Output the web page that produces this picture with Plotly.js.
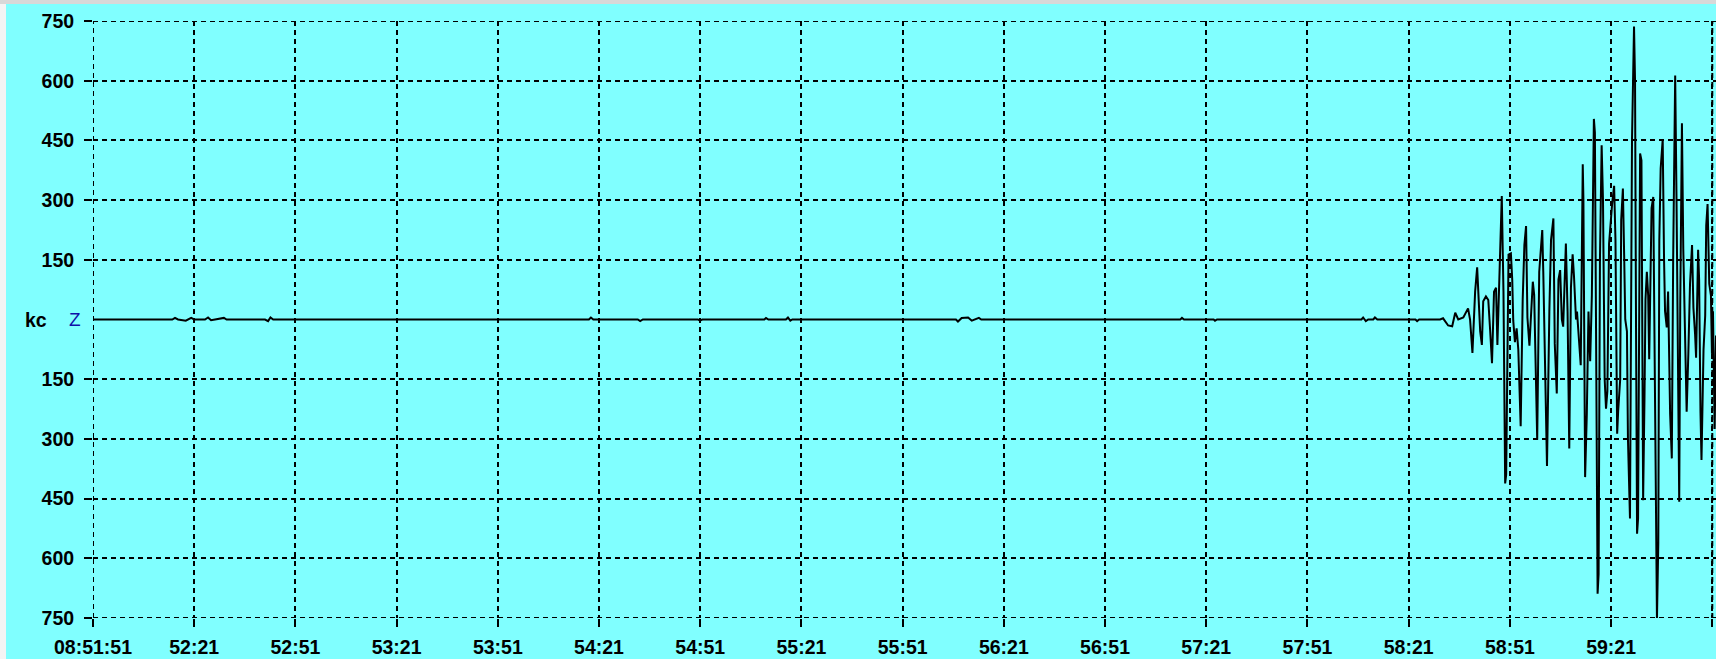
<!DOCTYPE html>
<html>
<head>
<meta charset="utf-8">
<script src="https://cdn.plot.ly/plotly-3.0.1.min.js"></script>
<style>html,body{margin:0;padding:0;background:#80FFFF;}#chart{width:1716px;height:659px;}</style>
</head>
<body>
<div id="chart"></div>
<script>
// Seconds after 08:51:51
const tickSeconds = [0,30,60,90,120,150,180,210,240,270,300,330,360,390,420,450,480];
const tickLabels = ["08:51:51","52:21","52:51","53:21","53:51","54:21","54:51","55:21","55:51","56:21","56:51","57:21","57:51","58:21","58:51","59:21",""];
const ampTicks = [-750,-600,-450,-300,-150,150,300,450,600,750];
const ampLabels = ["750","600","450","300","150","150","300","450","600","750"];

// quiet part (time s, counts)
const quietT = [0,23.5,24.3,25.2,27.5,29.1,30,33.2,34.1,35,38.8,39.6,51,51.9,52.6,53.4,147,147.6,148.3,161.5,162.2,163,179.3,179.9,180.6,199,199.5,200.2,205.4,206,206.7,207.3,255.8,256.4,257.5,259.4,260.5,262.6,263.3,322.3,322.8,323.4,332.2,332.6,333.2,376,376.5,377.3,378,379.5,380,380.7,392,392.5,393.1,398.5];
const quietV = [0,0,4,0,-3,4,0,0,5,-2,4,0,0,-4,5,0,0,5,0,0,-4,0,0,-3,0,0,4,0,0,5,-3,0,0,-5,4,5,-3,4,0,0,4,0,0,-3,0,0,5,-4,0,0,5,0,0,-4,0,0];

// event part (time s, counts)
const eventT = [399.3,400.2,401.7,402.9,403.8,404.7,406.2,407.6,408.2,408.9,409.7,410.3,411.2,411.7,412.1,412.9,413.6,414.1,414.7,415.3,415.9,416.3,416.9,417.6,418.1,418.6,418.9,419.3,419.6,420.3,420.7,421.0,421.5,422.0,422.5,423.2,423.8,424.3,424.8,425.2,425.8,426.2,426.8,427.2,427.7,428.1,428.7,429.1,429.6,429.9,430.4,431.0,431.7,432.2,432.9,433.3,433.9,434.4,434.9,435.4,435.8,436.3,436.6,437.1,437.6,438.1,438.6,439.0,439.6,439.9,440.6,441.0,441.6,441.8,442.3,442.8,443.3,443.8,444.3,444.9,445.2,446.0,446.3,446.7,447.2,447.6,448.1,448.5,448.9,449.4,450.3,450.9,451.3,451.6,451.8,452.1,452.7,453.0,453.5,453.9,454.2,454.7,455.0,455.6,455.9,456.2,456.8,457.1,457.4,457.7,458.0,458.3,458.6,459.0,459.2,459.5,459.9,460.2,460.6,461.0,461.3,461.6,462.0,462.5,462.8,463.1,463.6,464.0,464.3,464.7,465.3,465.7,466.0,466.5,466.9,467.5,468.0,468.4,469.0,469.4,469.7,470.2,470.5,471.0,471.4,471.9,472.4,472.9,473.4,474.0,474.4,474.9,475.2,475.8,476.1,476.5,476.8,477.4,477.9,478.2,478.6,479.1,479.6,479.9,480.2,480.7,481.1];
const eventV = [0,3,-15,-17,17,0,5,28,0,-84,70,131,-30,-64,46,58,49,-20,-110,70,80,-64,134,310,70,-412,-390,-80,163,166,100,-3,-57,-22,-76,-268,50,187,235,5,-66,0,95,62,-115,-302,120,178,225,120,-115,-368,20,200,254,-60,-186,100,124,0,-18,140,191,20,-324,80,164,110,0,20,-85,-115,390,300,-396,-240,20,-105,60,504,470,-689,-640,150,438,300,-150,-224,-180,190,290,336,200,-220,-287,-230,-150,250,329,150,0,-30,-300,-500,-100,450,736,600,-30,-538,-500,50,417,400,-100,-454,-200,50,120,60,-100,100,280,308,0,-300,-752,-560,200,380,452,150,20,-20,70,-237,-349,150,613,300,70,-458,36,493,178,-71,-232,-86,90,187,30,-37,-96,175,100,-232,-353,-76,10,236,290,90,60,-86,21,-275,-40];

const t = quietT.concat(eventT);
const v = quietV.concat(eventV);

const W = 1716, H = 659, L = 93, T = 21, B = 41;
const plotW = W - L, plotH = H - T - B;
const px2x = p => (p - L) / plotW;
const py2y = p => 1 + (T - p) / plotH;
const X_MAX = 481.1, Y_MAX = 750;

const trace = {
  x: t, y: v, type: 'scatter', mode: 'lines',
  line: {color: '#000000', width: 2},
  hoverinfo: 'skip'
};

const tickFont = {family: 'Liberation Sans, Arial, sans-serif', size: 19.5, color: '#000', weight: 'bold'};
const gridDash = '5px,4px';

// edge grid lines that Plotly suppresses at the range limits
const edgeLines = [
  {type: 'line', xref: 'x', yref: 'paper', x0: tickSeconds[0], x1: tickSeconds[0], y0: 0, y1: 1, line: {color: '#000', width: 2, dash: gridDash}, layer: 'below'},
  {type: 'line', xref: 'x', yref: 'paper', x0: tickSeconds[tickSeconds.length - 1], x1: tickSeconds[tickSeconds.length - 1], y0: 0, y1: 1, line: {color: '#000', width: 2, dash: gridDash}, layer: 'below'},
  {type: 'line', xref: 'paper', yref: 'y', x0: 0, x1: 1, y0: ampTicks[0], y1: ampTicks[0], line: {color: '#000', width: 2, dash: gridDash}, layer: 'below'},
  {type: 'line', xref: 'paper', yref: 'y', x0: 0, x1: 1, y0: ampTicks[ampTicks.length - 1], y1: ampTicks[ampTicks.length - 1], line: {color: '#000', width: 2, dash: gridDash}, layer: 'below'}
];

const layout = {
  width: W, height: H,
  margin: {l: L, r: 0, t: T, b: B, pad: 0},
  paper_bgcolor: '#80FFFF',
  plot_bgcolor: '#80FFFF',
  showlegend: false,
  xaxis: {
    range: [0, X_MAX], tickmode: 'array', tickvals: tickSeconds, ticktext: tickLabels,
    showgrid: true, gridcolor: '#000', gridwidth: 2, griddash: gridDash,
    zeroline: false, showline: false,
    ticks: 'outside', ticklen: 8, tickwidth: 2, tickcolor: '#000',
    tickfont: tickFont, ticklabelstandoff: 4, fixedrange: true
  },
  yaxis: {
    range: [-Y_MAX, Y_MAX], tickmode: 'array', tickvals: ampTicks, ticktext: ampLabels,
    showgrid: true, gridcolor: '#000', gridwidth: 2, griddash: gridDash,
    zeroline: false, showline: false,
    ticks: 'outside', ticklen: 8, tickwidth: 2, tickcolor: '#000',
    tickfont: tickFont, ticklabelstandoff: 6, fixedrange: true
  },
  shapes: edgeLines.concat([
    {type: 'rect', xref: 'paper', yref: 'paper', x0: px2x(0), x1: px2x(W), y0: py2y(4), y1: py2y(-2), fillcolor: '#D8D8D8', line: {width: 0}, layer: 'above'},
    {type: 'rect', xref: 'paper', yref: 'paper', x0: px2x(-2), x1: px2x(6), y0: py2y(H + 2), y1: py2y(4), fillcolor: '#F4F4F4', line: {width: 0}, layer: 'above'}
  ]),
  annotations: [
    {xref: 'paper', yref: 'y', x: px2x(36), y: 0, text: 'kc', showarrow: false, xanchor: 'center', yanchor: 'middle', font: tickFont},
    {xref: 'paper', yref: 'y', x: px2x(75), y: 0, text: 'Z', showarrow: false, xanchor: 'center', yanchor: 'middle', font: {family: 'Liberation Sans, Arial, sans-serif', size: 19, color: '#1010A8'}}
  ]
};

Plotly.newPlot('chart', [trace], layout, {displayModeBar: false, staticPlot: true});
</script>
</body>
</html>
